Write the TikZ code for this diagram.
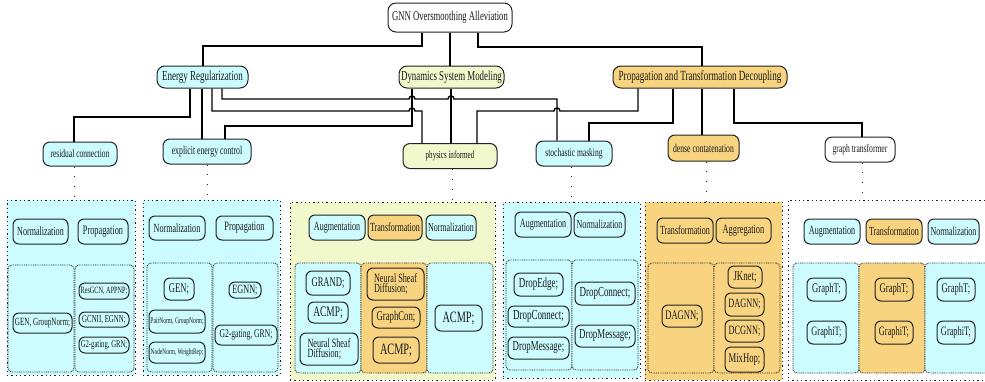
\documentclass[tikz,border=0pt]{standalone}
\usepackage{fontspec}
\setmainfont{Liberation Serif}[FakeStretch=0.65]
\definecolor{cy}{HTML}{CCFCFF}
\definecolor{yg}{HTML}{F0F8CC}
\definecolor{og}{HTML}{F8D480}
\definecolor{ink}{HTML}{222222}
\newcommand\myfs[1]{\fontsize{#1}{#1}\selectfont}
\begin{document}
\begin{tikzpicture}[x=1pt,y=-1pt,
  box/.style={draw=ink, line width=1pt, rounded corners=6pt, inner sep=0pt, align=center, text=black!90},
  panel/.style={draw=ink, line width=1pt, dash pattern=on 1.3pt off 3pt, inner sep=0pt},
  sub/.style={draw=ink, line width=0.8pt, dash pattern=on 0.9pt off 0.9pt, rounded corners=4pt, inner sep=0pt},
  conn/.style={draw=black, line width=1.4pt},
  dotconn/.style={draw=ink, line width=0.9pt, dash pattern=on 0.9pt off 9pt}]
\useasboundingbox (0,0) rectangle (985,381);
\fill[white] (0,0) rectangle (985,381);

% ---- top levels
\node[box, fill=white, rounded corners=8pt, minimum width=124, minimum height=29, font=\myfs{13.3}] (root) at (450,17.5) {GNN Oversmoothing Alleviation};
\node[box, fill=cy, rounded corners=8pt, minimum width=91, minimum height=22, font=\myfs{13.8}] (er) at (202.5,77) {Energy Regularization};
\node[box, fill=yg, rounded corners=8pt, minimum width=105, minimum height=22, font=\myfs{13.6}] (dyn) at (451.5,77) {Dynamics System Modeling};
\node[box, fill=og, rounded corners=8pt, minimum width=174, minimum height=22, font=\myfs{14}] (prop) at (700,77) {Propagation and Transformation Decoupling};

\node[box, fill=cy, rounded corners=7pt, minimum width=74, minimum height=24, font=\myfs{11.6}] (res) at (80,154) {residual connection};
\node[box, fill=cy, rounded corners=7pt, minimum width=88, minimum height=25, font=\myfs{12}] (exp) at (207,151.5) {explicit energy control};
\node[box, fill=yg, rounded corners=7pt, minimum width=94, minimum height=25, font=\myfs{10.8}] (phy) at (450,156) {physics informed};
\node[box, fill=cy, rounded corners=7pt, minimum width=76, minimum height=25, font=\myfs{11.6}] (sto) at (574,153.5) {stochastic masking};
\node[box, fill=og, rounded corners=7pt, minimum width=71, minimum height=26, font=\myfs{11.8}] (den) at (703.5,148) {dense contatenation};
\node[box, fill=white, rounded corners=7pt, minimum width=70, minimum height=25, font=\myfs{11.7}] (gt) at (860,149.5) {graph transformer};

% ---- connectors
\draw[conn] (root.south -| 422,0) -- (422,46) -- (203,46) -- (er.north -| 203,0);
\draw[conn] (root.south -| 450,0) -- (dyn.north -| 450,0);
\draw[conn] (root.south -| 478,0) -- (478,47) -- (702,47) -- (prop.north -| 702,0);

\draw[conn] (er.south -| 190,0) -- (190,117) -- (74,117) -- (res.north -| 74,0);
\draw[conn] (er.south -| 202,0) -- (exp.north -| 202,0);
\draw[conn] (dyn.south -| 412,0) -- (412,126) -- (225,126) -- (exp.north -| 225,0);
\draw[conn] (dyn.south -| 451,0) -- (phy.north -| 451,0);
\draw[conn] (er.south -| 212,0) -- (212,111) -- (409,111) .. controls (409,107) and (415,107) .. (415,111) -- (422,111) -- (phy.north -| 422,0);
\draw[conn] (er.south -| 222,0) -- (222,99) -- (409,99) .. controls (409,95) and (415,95) .. (415,99) -- (448,99) .. controls (448,95) and (454,95) .. (454,99) -- (557,99) -- (sto.north -| 557,0);
\draw[conn] (prop.south -| 638,0) -- (638,111) -- (560,111) .. controls (560,107) and (554,107) .. (554,111) -- (477,111) -- (phy.north -| 477,0);
\draw[conn] (prop.south -| 673,0) -- (673,123) -- (589,123) -- (sto.north -| 589,0);
\draw[conn] (prop.south -| 702,0) -- (den.north -| 702,0);
\draw[conn] (prop.south -| 734,0) -- (734,123) -- (862,123) -- (gt.north -| 862,0);

% ---- panels
\node[panel, fill=cy, minimum width=128, minimum height=175] (p1) at (71,287.5) {};
\node[panel, fill=cy, minimum width=137, minimum height=175] (p2) at (211.5,287.5) {};
\node[panel, fill=yg, minimum width=205, minimum height=178] (p3) at (392.5,291) {};
\node[panel, fill=cy, minimum width=137, minimum height=176] (p4) at (571.5,290) {};
\node[panel, fill=og, minimum width=137, minimum height=178] (p5) at (713.5,291) {};
\node[panel, fill=white, minimum width=202, minimum height=180] (p6) at (889,290) {};

\draw[dotconn] (res.south -| 74,0) -- (p1.north -| 74,0);
\draw[dotconn] (exp.south -| 207,0) -- (p2.north -| 207,0);
\draw[dotconn] (phy.south -| 452,0) -- (p3.north -| 452,0);
\draw[dotconn] (sto.south -| 571,0) -- (p4.north -| 571,0);
\draw[dotconn] (den.south -| 706,0) -- (p5.north -| 706,0);
\draw[dotconn] (gt.south -| 862,0) -- (p6.north -| 862,0);

% sub panels
\node[sub, fill=cy, minimum width=66, minimum height=107] (s1l) at (41,318.5) {};
\node[sub, fill=cy, minimum width=59, minimum height=107] (s1r) at (104.5,318.5) {};
\node[sub, fill=cy, minimum width=65, minimum height=109] (s2l) at (179.5,317.5) {};
\node[sub, fill=cy, minimum width=65, minimum height=109] (s2r) at (245.5,317.5) {};
\node[sub, fill=cy, minimum width=66, minimum height=110] (s3l) at (328,318) {};
\node[sub, fill=og, minimum width=66, minimum height=110] (s3m) at (394,318) {};
\node[sub, fill=cy, minimum width=66, minimum height=110] (s3r) at (460,318) {};
\node[sub, fill=cy, minimum width=66, minimum height=110] (s4l) at (539,315) {};
\node[sub, fill=cy, minimum width=66, minimum height=110] (s4r) at (605,315) {};
\node[sub, fill=og, minimum width=66, minimum height=110] (s5l) at (681,318) {};
\node[sub, fill=og, minimum width=66, minimum height=110] (s5r) at (747,318) {};
\node[sub, fill=cy, minimum width=66, minimum height=110] (s6l) at (826,318) {};
\node[sub, fill=og, minimum width=66, minimum height=110] (s6m) at (892,318) {};
\node[sub, fill=cy, minimum width=66, minimum height=110] (s6r) at (958,318) {};

% headers
\node[box, fill=cy, minimum width=55, minimum height=25, font=\myfs{12.4}] (h1a) at (40.5,231.5) {Normalization};
\node[box, fill=cy, minimum width=50, minimum height=25, font=\myfs{12.8}] (h1b) at (103,231.5) {Propagation};
\node[box, fill=cy, minimum width=56, minimum height=24, font=\myfs{12.4}] (h2a) at (177,228) {Normalization};
\node[box, fill=cy, minimum width=57, minimum height=24, font=\myfs{12.8}] (h2b) at (244.5,228) {Propagation};
\node[box, fill=cy, minimum width=56, minimum height=25, font=\myfs{12.4}] (h3a) at (337,227.5) {Augmentation};
\node[box, fill=og, minimum width=54, minimum height=25, font=\myfs{12.4}] (h3b) at (395,227.5) {Transformation};
\node[box, fill=cy, minimum width=50, minimum height=25, font=\myfs{12.2}] (h3c) at (451,227.5) {Normalization};
\node[box, fill=cy, minimum width=56, minimum height=25, font=\myfs{12.4}] (h4a) at (543,224.5) {Augmentation};
\node[box, fill=cy, minimum width=51, minimum height=25, font=\myfs{12.2}] (h4b) at (599.5,224.5) {Normalization};
\node[box, fill=og, minimum width=56, minimum height=25, font=\myfs{12.4}] (h5a) at (685,230.5) {Transformation};
\node[box, fill=og, minimum width=55, minimum height=25, font=\myfs{12.8}] (h5b) at (743.5,230.5) {Aggregation};
\node[box, fill=cy, minimum width=56, minimum height=25, font=\myfs{12.4}] (h6a) at (832,231.5) {Augmentation};
\node[box, fill=og, minimum width=56, minimum height=25, font=\myfs{12.4}] (h6b) at (894,231.5) {Transformation};
\node[box, fill=cy, minimum width=51, minimum height=25, font=\myfs{12.2}] (h6c) at (953.5,231.5) {Normalization};

% items panel 1
\node[box, fill=cy, minimum width=59, minimum height=20, font=\myfs{11}] (i1) at (42.5,323) {GEN, GroupNorm;};
\node[box, fill=cy, minimum width=50, minimum height=16, font=\myfs{9.6}] (i2) at (104,291) {ResGCN, APPNP;};
\node[box, fill=cy, minimum width=50, minimum height=15, font=\myfs{10.6}] (i3) at (104,319.5) {GCNII, EGNN;};
\node[box, fill=cy, minimum width=50, minimum height=16, font=\myfs{10.3}] (i4) at (104,345) {G2-gating, GRN;};
% panel 2
\node[box, fill=cy, minimum width=30, minimum height=22, font=\myfs{13.2}] (i5) at (179,289) {GEN;};
\node[box, fill=cy, minimum width=56, minimum height=23, font=\myfs{8.5}] (i6) at (177,321.5) {PairNorm, GroupNorm;};
\node[box, fill=cy, minimum width=56, minimum height=21, font=\myfs{8.3}] (i7) at (177,352.5) {NodeNorm, WeightRep;};
\node[box, fill=cy, minimum width=32, minimum height=16, font=\myfs{12.6}] (i8) at (245,290) {EGNN;};
\node[box, fill=cy, minimum width=62, minimum height=20, font=\myfs{11.7}] (i9) at (246,335) {G2-gating, GRN;};
% panel 3
\node[box, fill=cy, minimum width=44, minimum height=24, font=\myfs{13.2}] (i10) at (328,283) {GRAND;};
\node[box, fill=cy, minimum width=40, minimum height=21, font=\myfs{14.5}] (i11) at (328,312.5) {ACMP;};
\node[box, fill=cy, minimum width=58, minimum height=32, align=left, font=\fontsize{12.6}{10.8}\selectfont] (i12) at (329,349) {Neural Sheaf\\Diffusion;};
\node[box, fill=og, minimum width=57, minimum height=32, align=left, font=\fontsize{12.6}{10.8}\selectfont] (i13) at (395.5,284) {Neural Sheaf\\Diffusion;};
\node[box, fill=og, minimum width=48, minimum height=21, font=\myfs{13.4}] (i14) at (396,317.5) {GraphCon;};
\node[box, fill=og, minimum width=46, minimum height=26, font=\myfs{15.8}] (i15) at (396,350) {ACMP;};
\node[box, fill=cy, minimum width=47, minimum height=26, font=\myfs{15.8}] (i16) at (458.5,318) {ACMP;};
% panel 4
\node[box, fill=cy, minimum width=49, minimum height=23, font=\myfs{13.8}] (i17) at (538.5,284.5) {DropEdge;};
\node[box, fill=cy, minimum width=61, minimum height=21, font=\myfs{13.8}] (i18) at (538.5,316.5) {DropConnect;};
\node[box, fill=cy, minimum width=61, minimum height=22, font=\myfs{13.6}] (i19) at (538.5,348) {DropMessage;};
\node[box, fill=cy, minimum width=60, minimum height=23, font=\myfs{13.8}] (i20) at (605,293.5) {DropConnect;};
\node[box, fill=cy, minimum width=60, minimum height=22, font=\myfs{13.6}] (i21) at (605,336) {DropMessage;};
% panel 5
\node[box, fill=og, minimum width=40, minimum height=22, font=\myfs{13.1}] (i22) at (682,316) {DAGNN;};
\node[box, fill=og, minimum width=34, minimum height=22, font=\myfs{13.5}] (i23) at (745,277) {JKnet;};
\node[box, fill=og, minimum width=39, minimum height=23, font=\myfs{12.7}] (i24) at (744.5,304.5) {DAGNN;};
\node[box, fill=og, minimum width=39, minimum height=22, font=\myfs{12.7}] (i25) at (744.5,331) {DCGNN;};
\node[box, fill=og, minimum width=39, minimum height=25, font=\myfs{13.3}] (i26) at (744.5,359.5) {MixHop;};
% panel 6
\node[box, fill=cy, minimum width=39, minimum height=23, font=\myfs{13.2}] (i27) at (826.5,289.5) {GraphT;};
\node[box, fill=cy, minimum width=39, minimum height=23, font=\myfs{12.8}] (i28) at (826.5,332.5) {GraphiT;};
\node[box, fill=og, minimum width=38, minimum height=23, font=\myfs{13.2}] (i29) at (894,289.5) {GraphT;};
\node[box, fill=og, minimum width=38, minimum height=23, font=\myfs{12.8}] (i30) at (894,332.5) {GraphiT;};
\node[box, fill=cy, minimum width=38, minimum height=23, font=\myfs{13.2}] (i31) at (956,289.5) {GraphT;};
\node[box, fill=cy, minimum width=38, minimum height=23, font=\myfs{12.8}] (i32) at (956,332.5) {GraphiT;};
\end{tikzpicture}
\end{document}
